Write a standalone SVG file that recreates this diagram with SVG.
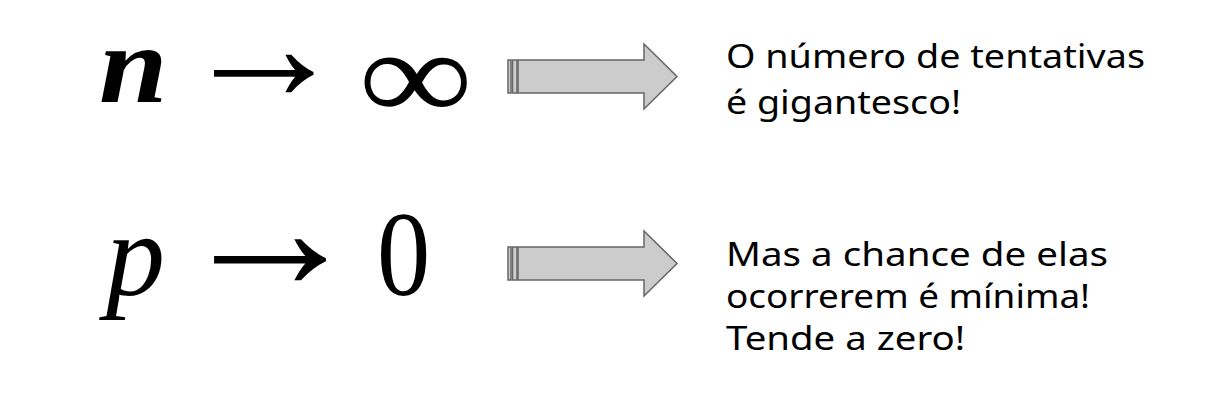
<svg xmlns="http://www.w3.org/2000/svg" width="1211" height="413" viewBox="0 0 1211 413">
<style>
.math{font-family:"Liberation Serif",serif;fill:#000}
.lbl{font-family:"Noto Sans","Open Sans",sans-serif;font-size:33px;fill:#000}
.barrow{fill:#cccccc;stroke:#666666;stroke-width:1.5}
</style>
<rect width="1211" height="413" fill="#ffffff"/>
<g id="formula-n">
<text class="math" transform="translate(99,102) scale(1.12,1)" style="font-size:110px;font-style:italic;font-weight:bold">n</text>
<text class="math" transform="translate(179.4,99.8) scale(1.05,1)" style="font-size:160px">→</text>
<text class="math" transform="translate(358.6,119.5) scale(1.07,0.87)" style="font-size:150px">∞</text>
</g>
<g id="formula-p">
<text class="math" transform="translate(106,295)" style="font-size:118px;font-style:italic">p</text>
<text class="math" transform="translate(175.2,289.1) scale(1.08,1)" style="font-size:175px">→</text>
<text class="math" transform="translate(377,295) scale(0.88,1)" style="font-size:121px">0</text>
</g>
<g id="connectors">
<g id="arrow1">
<rect class="barrow" x="508" y="60" width="3" height="33"/>
<rect class="barrow" x="512.5" y="60" width="4.5" height="33"/>
<path class="barrow" d="M518,60 H644 V44 L677,76.5 L644,109 V93 H518 Z"/>
</g>
<g id="arrow2">
<rect class="barrow" x="508" y="247" width="3" height="33"/>
<rect class="barrow" x="512.5" y="247" width="4.5" height="33"/>
<path class="barrow" d="M518,247 H644 V231 L677,263.5 L644,296 V280 H518 Z"/>
</g>
</g>
<g id="label1">
<text class="lbl" x="726" y="68" textLength="419" lengthAdjust="spacingAndGlyphs">O número de tentativas</text>
<text class="lbl" x="726" y="114" textLength="235" lengthAdjust="spacingAndGlyphs">é gigantesco!</text>
</g>
<g id="label2">
<text class="lbl" x="726" y="266" textLength="382" lengthAdjust="spacingAndGlyphs">Mas a chance de elas</text>
<text class="lbl" x="726" y="308" textLength="364" lengthAdjust="spacingAndGlyphs">ocorrerem é mínima!</text>
<text class="lbl" x="726" y="350" textLength="239" lengthAdjust="spacingAndGlyphs">Tende a zero!</text>
</g>
</svg>
